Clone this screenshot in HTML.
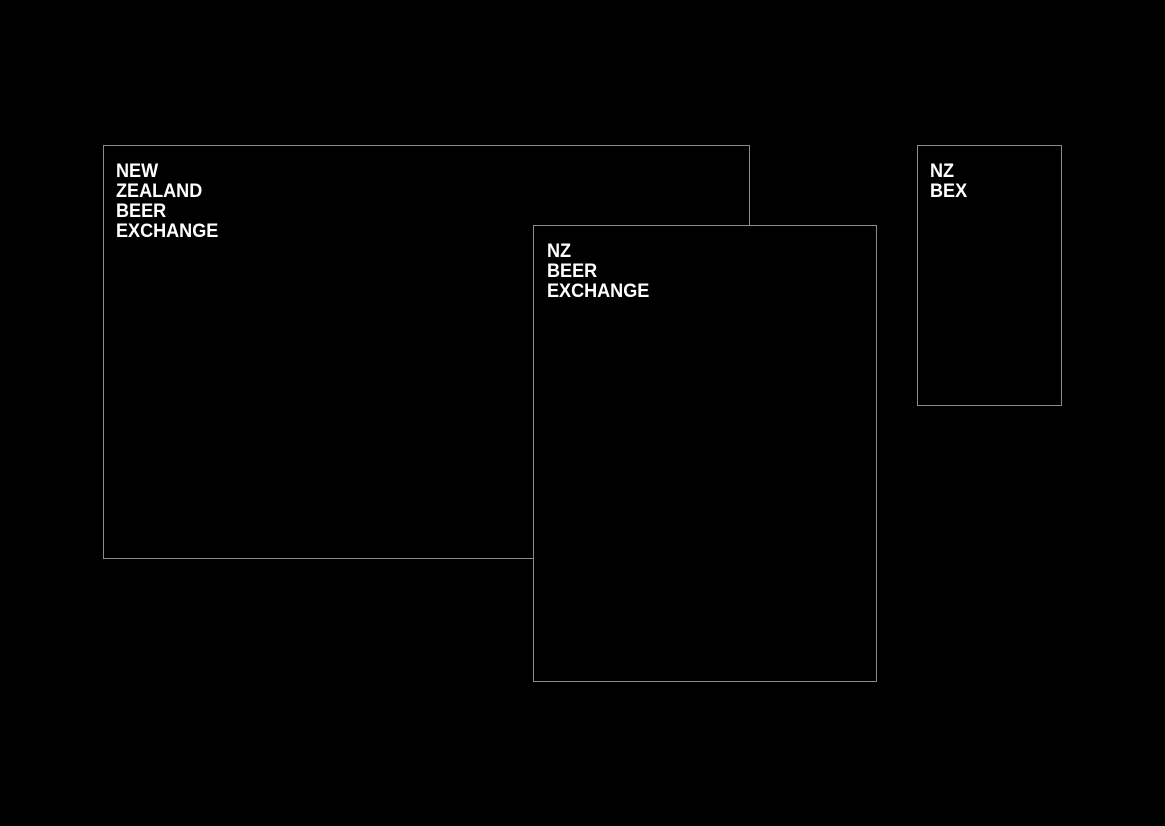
<!DOCTYPE html>
<html><head><style>
html,body{margin:0;padding:0;background:#000;width:1165px;height:826px;overflow:hidden}
.b{position:absolute;border:1px solid #8a8a8a;background:#000;box-sizing:border-box}
.t{position:absolute;color:#fff;font-family:"Liberation Sans",sans-serif;font-weight:bold;font-size:19px;line-height:20px;transform:scaleX(0.95);transform-origin:0 0}
</style></head><body>
<div class="b" style="left:103px;top:145px;width:647px;height:414px"></div>
<div class="t" style="left:116px;top:162px">NEW<br>ZEALAND<br>BEER<br>EXCHANGE</div>
<div class="b" style="left:533px;top:225px;width:344px;height:457px"></div>
<div class="t" style="left:547px;top:242px">NZ<br>BEER<br>EXCHANGE</div>
<div class="b" style="left:917px;top:145px;width:145px;height:261px"></div>
<div class="t" style="left:930px;top:162px">NZ<br>BEX</div>
</body></html>
